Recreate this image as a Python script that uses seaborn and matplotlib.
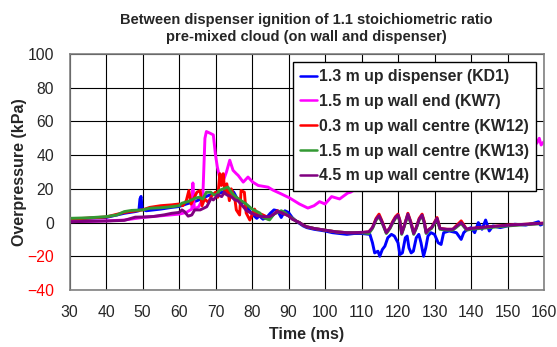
import pandas as pd
import matplotlib
matplotlib.use("Agg")
import matplotlib.pyplot as plt
import seaborn as sns

# time (ms) / overpressure (kPa), one pair of lists per gauge
kd1_t = [30, 40, 45, 48, 49, 49.3, 49.6, 49.9, 51, 55, 58, 60, 62, 65, 68, 70, 72, 73, 74, 75, 76, 77, 78.1,
         79, 80, 81.3, 82, 83, 84, 85, 86, 87, 88, 89, 90, 91, 92, 93, 94, 95, 97, 100, 102, 104, 106, 108,
         110, 112.3, 113, 113.6, 114.5, 115, 115.7, 116.4, 117.2, 118.2, 119, 120, 120.5, 121.2, 122, 122.5,
         123, 123.6, 124.2, 125, 125.7, 126.3, 127, 127.6, 128.2, 129, 130, 131, 131.8, 132.5, 134, 136,
         137.3, 138, 139, 140, 141, 142, 143, 144, 145, 146, 148, 150, 152, 155, 157, 158.5, 159, 160]
kd1_p = [2, 3, 5.5, 6.5, 7, 14, 15.5, 8, 7, 8, 9, 9.5, 11, 13, 16, 17, 18, 20, 19.5, 18, 14, 12, 11.5,
         8, 5, 2.5, 4, 2, 3, 5.5, 7.5, 7, 3, 7, 6, 3, 1, -0.5, -2, -3, -4, -5, -6, -6.5, -7, -6.5,
         -6.5, -7, -12, -18, -17, -20, -16, -14, -9, -7, -8, -12, -19, -18, -9, -8,
         -15, -18, -17, -9, -7, -12, -20, -15, -8, -6, -7, -12, -13, -6, -5, -6,
         -10, -6, -4, -3, -6, 0, -4, 1.5, -5, -2, -3, -2, -1, -1.5, -0.5, 0.5, -1.5, -0.5]

kw7_t = [30, 40, 45, 50, 55, 60, 62, 63.5, 63.8, 64.2, 65.4, 66.5, 67.1, 67.5, 68.5, 69.4, 70, 70.5, 71,
         72, 73, 73.9, 74.8, 75.7, 76.2, 77.6, 78.9, 80.2, 81.7, 84.4, 85.7, 88, 90.3, 93, 95.3, 97,
         98.5, 100, 101.8, 104, 106.2, 107, 110, 120, 130, 140, 150, 157, 158, 158.7, 159.2, 160]
kw7_p = [0.5, 1, 1.5, 3, 4, 5, 6, 8, 23.5, 8, 9.4, 14, 50, 54, 53, 52, 40, 33, 28,
         24, 30, 37, 31, 29, 28, 24, 27, 24, 22, 21, 19.3, 17, 14.6, 11, 8.6, 10,
         12.4, 11, 15.4, 14, 17.5, 18, 22, 30, 36, 42, 46, 48, 47, 50, 46, 48]

kw12_t = [30, 40, 45, 50, 52, 55, 58, 60, 61, 62, 62.7, 63.3, 64, 64.9, 65.8, 66.3, 67, 68, 69, 70,
          70.6, 71.2, 71.6, 72.1, 72.6, 73.1, 73.8, 74.3, 75.3, 75.7, 76.6, 77, 77.9, 78.4, 79.4, 80.7,
          81.5, 82.5, 83.5, 84.5, 86, 87, 88, 89, 90, 91, 92, 93, 94, 95, 97, 100, 103, 106, 110,
          112, 113, 114, 114.8, 115.5, 116.8, 117.8, 118.5, 119.3, 120, 120.5, 121, 121.7, 122.7, 123.5,
          124.3, 125, 125.8, 126.6, 127.2, 127.7, 128.5, 129.2, 130.7, 131.5, 133.4, 135, 137.3, 138.8,
          140, 142.5, 145, 150, 155, 160]
kw12_p = [2, 3.3, 6, 7.5, 9, 10, 10.5, 11, 10, 13, 19, 11, 14, 18, 19, 10, 14, 12, 16, 18,
          15, 29, 22, 29, 17, 23, 13, 20, 14, 7.5, 4.5, 19, 18, 5.7, 1.5, 8,
          4, 5, 4, 2, 5, 7, 6, 5, 4, 2.5, 1, 0, -1.5, -2.5, -3.5, -4.5, -5.5, -6, -6,
          -5.5, -3, 2.5, 5, 1.5, -6, -3, 0.5, 3.5, 5, 1.5, -6, -2, 5.5, 0.5,
          -6, -3, 2.5, 5, 0.5, -5.5, -4, -3, 3, -3.5, -4, -4, 1, -4,
          -3.5, -3, -2.5, -1.5, -1, -0.3]

kw13_t = [30, 35, 40, 43, 45, 47, 50, 52, 55, 58, 60, 60.8, 62.4, 63, 64.5, 65.5, 66.5, 67.5, 68.7, 69.5,
          70.3, 71, 72.1, 73.4, 74.5, 75.7, 77, 78.4, 80, 82.1, 83, 84.8, 86, 87, 88, 89, 90, 91, 92,
          93, 94, 95, 97, 100, 103, 106, 110, 112, 113, 114, 114.8, 115.5, 116.8, 117.8, 118.5, 119.3,
          120, 120.5, 121, 121.7, 122.7, 123.5, 124.3, 125, 125.8, 126.6, 127.2, 127.7, 128.5, 129.2,
          130.7, 131.5, 133.4, 135, 137.3, 138.8, 140, 142.5, 145, 150, 155, 160]
kw13_p = [2.5, 2.8, 3.5, 4.5, 6.5, 7.2, 7.5, 8.5, 8.8, 9.4, 10, 11.5, 12.4, 13, 14.5, 15, 14, 18, 18, 16.5,
          16.4, 19, 20, 21, 17.5, 15, 13, 11, 8, 5.7, 3, 1.6, 5, 6, 7, 6, 4, 2.5, 1,
          0, -1.5, -2.5, -3.5, -4.5, -5.5, -6, -6, -6.5, -3.5, 1.5, 3.5, 0.5, -6.5, -3.5, -0.5, 2.5,
          4, 0.5, -7, -2.5, 4.5, -0.5, -7, -3.5, 1.5, 4, -0.5, -6.5, -4.5, -3.5,
          2, -4, -4.5, -4.5, -0.5, -4.5, -4, -3.5, -3, -2, -1.2, -0.6]

kw14_t = [30, 35, 40, 45, 48, 50, 53, 56, 58, 60, 60.8, 61.5, 62.5, 63.5, 64.3, 65.8, 67.6, 68.8, 69.4,
          70.6, 71.7, 72.4, 73.1, 74.3, 75.3, 76.1, 77.6, 78.5, 79.9, 81, 82.6, 84.8, 86, 87, 88, 89,
          90, 91, 92, 93, 94, 95, 97, 100, 103, 106, 108, 110, 112, 113, 114, 114.8, 115.5, 116.8,
          117.8, 118.5, 119.3, 120, 120.5, 121, 121.7, 122.7, 123.5, 124.3, 125, 125.8, 126.6, 127.2,
          127.7, 128.5, 129.2, 130.7, 131.5, 133.4, 135, 137.3, 138.8, 140, 142.5, 145, 150, 155, 160]
kw14_p = [0.5, 0.7, 0.9, 1.3, 3.2, 3.3, 3.6, 4.6, 5.5, 6, 7.5, 6.5, 3.8, 4.5, 7.5, 7.5, 9.4, 14.4, 13.4,
          16.4, 15.4, 18, 16.4, 15.4, 13.4, 13, 9.4, 7, 5.5, 4.5, 3.5, 3.5, 5, 6.5, 6, 5,
          4, 2, 1, 0, -1.5, -2.5, -3.5, -4.5, -5.5, -6, -6, -5.8, -5.5, -3, 2, 4, 1, -6,
          -3, 0, 3, 4.4, 1, -6.5, -2, 5, 0, -6.5, -3, 2, 4.4, 0,
          -6, -4, -3, 2.5, -3.5, -4, -4, 0, -4, -3.5, -3, -2.5, -1.6, -1, -0.4]

labels = ["1.3 m up dispenser (KD1)", "1.5 m up wall end (KW7)", "0.3 m up wall centre (KW12)",
          "1.5 m up wall centre (KW13)", "4.5 m up wall centre (KW14)"]
colors = ["#0000ff", "#ff00ff", "#ff0000", "#339933", "#800080"]

series = [(kd1_t, kd1_p), (kw7_t, kw7_p), (kw12_t, kw12_p), (kw13_t, kw13_p), (kw14_t, kw14_p)]
frames = []
for name, (t, p) in zip(labels, series):
    frames.append(pd.DataFrame({"Time (ms)": t, "Overpressure (kPa)": p, "gauge": name}))
df = pd.concat(frames, ignore_index=True)

sns.set_style("white")
plt.rcParams["font.family"] = ["Liberation Sans", "DejaVu Sans"]

fig = plt.figure(figsize=(5.57, 3.47), dpi=100)
ax = fig.add_axes([0.1248, 0.1643, 0.8519, 0.6801])
sns.lineplot(data=df, x="Time (ms)", y="Overpressure (kPa)", hue="gauge", hue_order=labels,
             palette=colors, estimator=None, sort=False, linewidth=2.1, ax=ax)

ax.set_xlim(30, 160)
ax.set_ylim(-40, 100)
ax.set_xticks(range(30, 161, 10))
ax.set_yticks(range(-40, 101, 20))
ax.grid(True, color="black", linewidth=0.8)
ax.tick_params(length=0, labelsize=11.3, pad=11)
for s in ax.spines.values():
    s.set_color("#808080")
    s.set_linewidth(1.2)
for lab in ax.get_yticklabels():
    if float(lab.get_text().replace("\u2212", "-")) < 0:
        lab.set_color("red")

ax.set_xlabel("Time (ms)", fontsize=11.5, fontweight="bold", labelpad=5)
ax.set_ylabel("Overpressure (kPa)", fontsize=11.5, fontweight="bold", labelpad=0)
ax.set_title("Between dispenser ignition of 1.1 stoichiometric ratio\npre-mixed cloud (on wall and dispenser)",
             fontsize=10.5, fontweight="bold", pad=9, linespacing=1.3)

leg = ax.legend(loc="upper right", bbox_to_anchor=(0.983, 0.966), borderaxespad=0,
                prop={"weight": "bold", "size": 11.4}, handlelength=1.1, handletextpad=0.1,
                labelspacing=0.62, frameon=True, fancybox=False, framealpha=1, edgecolor="black",
                borderpad=0.45)
leg.get_frame().set_linewidth(1.0)
for h in leg.get_lines():
    h.set_linewidth(1.8)

plt.savefig("out.png", dpi=100)
